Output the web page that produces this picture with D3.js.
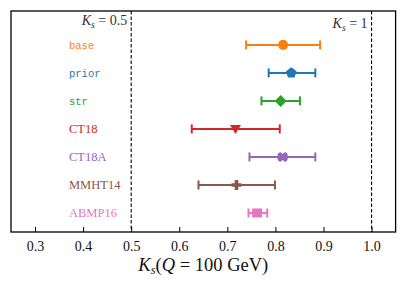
<!DOCTYPE html>
<html>
<head>
<meta charset="utf-8">
<script src="https://d3js.org/d3.v7.min.js"></script>
<style>
  body { margin: 0; background: #fff; }
  svg text { font-family: "Liberation Serif", "DejaVu Serif", serif; }
</style>
</head>
<body>
<div id="chart"></div>
<script>
"use strict"
// dados
var nomes   = ["base", "prior", "str", "CT18", "CT18A", "MMHT14", "ABMP16"];
var centros = [0.816, 0.833, 0.811, 0.717, 0.815, 0.719, 0.762];
var minimos = [0.739, 0.786, 0.771, 0.626, 0.746, 0.640, 0.744];
var maximos = [0.893, 0.883, 0.851, 0.809, 0.883, 0.799, 0.783];
var cores   = ["#ff7f0e", "#1f77b4", "#2ca02c", "#d62728", "#9467bd", "#8c564b", "#e377c2"];
var marcadores = ["circle", "pentagon", "diamond", "triangle", "x", "plus", "square"];
var mono    = [true, true, true, false, false, false, false];
var ticksX  = [0.3, 0.4, 0.5, 0.6, 0.7, 0.8, 0.9, 1.0];
var linhasRef = [0.5, 1.0];
var rotulosRef = ["0.5", "1"];

var larguraSVG = 407, alturaSVG = 285;
var margin = {top: 11, right: 11.4, bottom: 53, left: 11};
var larguraVis = larguraSVG - margin.left - margin.right,
    alturaVis = alturaSVG - margin.top - margin.bottom;

var svg = d3.select('#chart').append('svg')
    .attr('width', larguraSVG).attr('height', alturaSVG);
var grafico = svg.append('g')
    .attr('transform', 'translate(' + margin.left + ',' + margin.top + ')');

var x = d3.scaleLinear().domain([0.25, 1.05]).range([0, larguraVis]);
var y = d3.scaleLinear().domain([-1.21, 6.68]).range([0, alturaVis]);

// linhas tracejadas
grafico.selectAll('.ref').data(linhasRef).enter().append('line')
    .attr('x1', d => x(d)).attr('x2', d => x(d))
    .attr('y1', 0).attr('y2', alturaVis)
    .attr('stroke', 'black').attr('stroke-width', 1.1)
    .attr('stroke-dasharray', '3.5,2');

// K_s = ... rotulos
var refTxt = grafico.selectAll('.reftxt').data(linhasRef).enter().append('text')
    .attr('x', d => x(d) - 4)
    .attr('y', (d, i) => i == 0 ? 14 : 17)
    .attr('text-anchor', 'end')
    .attr('fill', '#333')
    .style('font-size', '14px');
refTxt.append('tspan').style('font-style', 'italic').text('K');
refTxt.append('tspan').attr('dy', 3).style('font-size', '9.5px').style('font-style', 'italic').text('s');
refTxt.append('tspan').attr('dy', -3).text((d, i) => ' = ' + rotulosRef[i]);

// barras de erro
var linhas = grafico.selectAll('.erro').data(nomes).enter().append('g')
    .attr('transform', (d, i) => 'translate(0,' + y(i) + ')');
linhas.append('line')
    .attr('x1', (d, i) => x(minimos[i])).attr('x2', (d, i) => x(maximos[i]))
    .attr('stroke', (d, i) => cores[i]).attr('stroke-width', 2);
[minimos, maximos].forEach(function (lista) {
  linhas.append('line')
    .attr('x1', (d, i) => x(lista[i])).attr('x2', (d, i) => x(lista[i]))
    .attr('y1', -4.5).attr('y2', 4.5)
    .attr('stroke', (d, i) => cores[i]).attr('stroke-width', 2);
});

// marcadores
function pentagono(r) {
  var p = [];
  for (var k = 0; k < 5; k++) {
    var a = -Math.PI / 2 + k * 2 * Math.PI / 5;
    p.push([r * Math.cos(a), r * Math.sin(a)]);
  }
  return 'M' + p.join('L') + 'Z';
}
function cruz(r, w) {
  return 'M' + (-w) + ',' + (-r) + 'H' + w + 'V' + (-w) + 'H' + r + 'V' + w + 'H' + w + 'V' + r +
         'H' + (-w) + 'V' + w + 'H' + (-r) + 'V' + (-w) + 'H' + (-w) + 'Z';
}
function caminho(tipo) {
  if (tipo == 'circle') return d3.symbol(d3.symbolCircle, 80)();
  if (tipo == 'pentagon') return pentagono(5.6);
  if (tipo == 'diamond') return 'M0,-6L6,0L0,6L-6,0Z';
  if (tipo == 'triangle') return 'M-5.5,-4L5.5,-4L0,5Z';
  if (tipo == 'x') return 'M-5,-3L-2.5,-5L0,-3L2.5,-5L5,-3L5,3L2.5,5L0,3L-2.5,5L-5,3Z';
  if (tipo == 'plus') return cruz(5, 1.8);
  if (tipo == 'square') return 'M-5,-4.5H5V4.5H-5Z';
}
linhas.append('path')
    .attr('transform', (d, i) => 'translate(' + x(centros[i]) + ',0)')
    .attr('d', (d, i) => caminho(marcadores[i]))
    .attr('fill', (d, i) => cores[i]);

// nomes
grafico.selectAll('.nome').data(nomes).enter().append('text')
    .attr('x', 58)
    .attr('y', (d, i) => y(i) + 4)
    .attr('fill', (d, i) => cores[i])
    .style('font-family', (d, i) => mono[i] ? '"Liberation Mono", monospace' : null)
    .style('font-size', (d, i) => mono[i] ? '10.5px' : '12.5px')
    .text(d => d);

// eixo x
var eixo = grafico.append('g')
    .attr('transform', 'translate(0,' + alturaVis + ')')
    .call(d3.axisBottom(x).tickValues(ticksX).tickFormat(d3.format('.1f')).tickSizeInner(-5).tickSizeOuter(0));
eixo.select('.domain').remove();
eixo.selectAll('line').attr('stroke-width', 1);
eixo.selectAll('text').attr('dy', 0).attr('y', 19)
    .style('font-family', '"Liberation Serif", serif').style('font-size', '14px').attr('fill', '#111');

// moldura
grafico.append('rect')
    .attr('width', larguraVis).attr('height', alturaVis)
    .attr('fill', 'none').attr('stroke', 'black').attr('stroke-width', 1.3);

// titulo eixo x
var tit = svg.append('text')
    .attr('x', margin.left + larguraVis / 2).attr('y', 271)
    .attr('text-anchor', 'middle').style('font-size', '18.5px').attr('fill', '#111');
tit.append('tspan').style('font-style', 'italic').text('K');
tit.append('tspan').attr('dy', 3).style('font-size', '12.5px').style('font-style', 'italic').text('s');
tit.append('tspan').attr('dy', -3).text('(');
tit.append('tspan').style('font-style', 'italic').text('Q');
tit.append('tspan').text(' = 100 GeV)');
</script>
</body>
</html>
